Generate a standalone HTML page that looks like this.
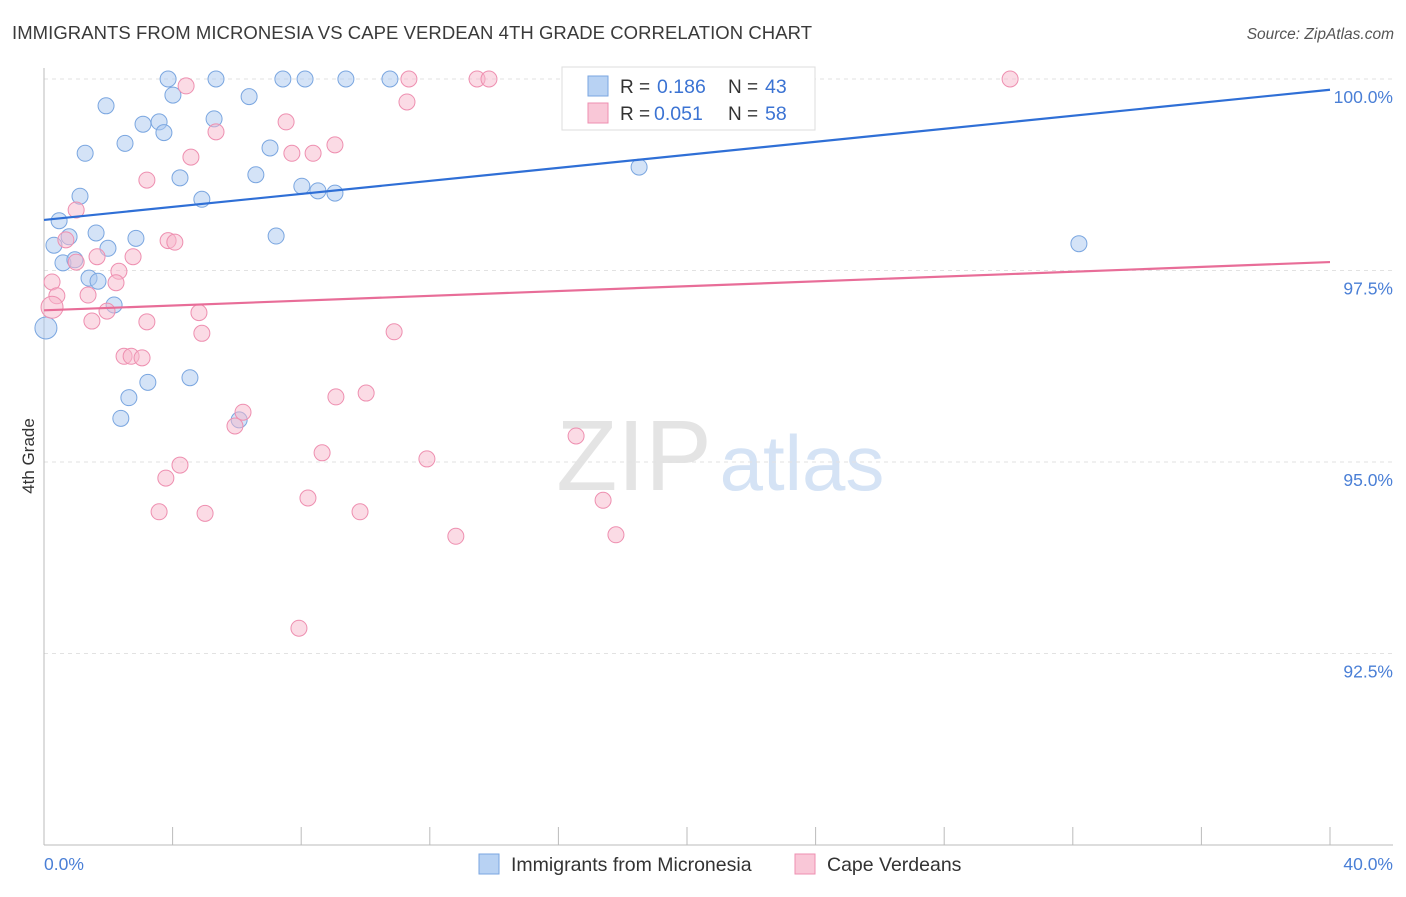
<!DOCTYPE html>
<html><head><meta charset="utf-8"><style>
body{margin:0;background:#fff;font-family:"Liberation Sans",sans-serif;}
svg text{font-family:"Liberation Sans",sans-serif;}
</style></head><body>
<svg id="chart" width="1406" height="892" viewBox="0 0 1406 892" xmlns="http://www.w3.org/2000/svg">
<text x="12" y="39" font-size="18.5" fill="#3a3a3a" textLength="800">IMMIGRANTS FROM MICRONESIA VS CAPE VERDEAN 4TH GRADE CORRELATION CHART</text>
<text x="1394" y="39" font-size="15.5" fill="#555" font-style="italic" text-anchor="end">Source: ZipAtlas.com</text>
<g>
<text x="634" y="490" font-size="100" fill="#e4e4e4" text-anchor="middle" font-family="Liberation Serif, serif">ZIP</text>
<text x="802" y="490" font-size="78" fill="#d5e3f5" text-anchor="middle">atlas</text>
</g>
<g id="grid"></g>
<g id="axes"></g>
<g id="marks"></g>
<text transform="translate(34,456) rotate(-90)" font-size="17" fill="#333" text-anchor="middle">4th Grade</text>
<g>
<rect x="562" y="67" width="253" height="63" fill="#fff" stroke="#ddd"/>
<rect x="588" y="76" width="20" height="20" fill="#b8d2f3" stroke="#7aa6e0"/>
<rect x="588" y="103" width="20" height="20" fill="#f9c7d7" stroke="#ee8fb0"/>
<text x="620" y="93" font-size="19" fill="#333">R =</text>
<text x="657" y="93" font-size="19.5" fill="#3b73d3">0.186</text>
<text x="728" y="93" font-size="19" fill="#333">N =</text>
<text x="765" y="93" font-size="19.5" fill="#3b73d3">43</text>
<text x="620" y="120" font-size="19" fill="#333">R =</text>
<text x="654" y="120" font-size="19.5" fill="#3b73d3">0.051</text>
<text x="728" y="120" font-size="19" fill="#333">N =</text>
<text x="765" y="120" font-size="19.5" fill="#3b73d3">58</text>
</g>
<g>
<rect x="479" y="854" width="20" height="20" fill="#b8d2f3" stroke="#7aa6e0"/>
<text x="511" y="871" font-size="19.5" fill="#333">Immigrants from Micronesia</text>
<rect x="795" y="854" width="20" height="20" fill="#f9c7d7" stroke="#ee8fb0"/>
<text x="827" y="871" font-size="19.5" fill="#333">Cape Verdeans</text>
</g>
</svg>
<script>
const yTicks=[100,97.5,95,92.5];
const yTickLabels=["100.0%","97.5%","95.0%","92.5%"];
const xTicks=[0,4,8,12,16,20,24,28,32,36,40];
const xLabels=["0.0%","40.0%"];
const blueX=[3.86,5.35,7.43,8.12,9.39,10.76,1.93,4.01,6.38,3.08,3.58,3.73,5.29,2.52,1.28,7.03,4.23,6.59,4.91,8.02,8.52,9.05,1.12,18.51,0.47,1.62,0.78,0.31,2.86,1.99,7.22,32.19,0.59,0.96,1.40,1.68,2.18,0.06,3.23,4.54,2.64,2.39,6.07];
const blueY=[100,100,100,100,100,100,99.65,99.79,99.77,99.41,99.44,99.30,99.48,99.16,99.03,99.10,98.71,98.75,98.43,98.60,98.54,98.51,98.47,98.85,98.15,97.99,97.94,97.83,97.92,97.79,97.95,97.85,97.60,97.64,97.40,97.36,97.05,96.75,96.04,96.10,95.84,95.57,95.55];
const pinkX=[4.42,11.35,13.47,13.84,30.05,21.90,11.29,7.53,5.35,9.05,7.71,8.37,4.57,3.20,1.00,0.68,3.86,4.07,1.65,2.77,1.00,2.33,0.25,0.40,1.37,2.24,0.25,4.82,1.96,1.49,3.20,4.91,10.89,2.49,2.71,3.05,9.08,10.02,6.19,5.94,16.55,4.23,8.65,11.91,3.79,8.21,17.39,3.58,5.01,9.83,12.81,17.79,7.93];
const pinkY=[99.91,100,100,100,100,100,99.70,99.44,99.31,99.14,99.03,99.03,98.98,98.68,98.29,97.90,97.89,97.87,97.68,97.68,97.61,97.49,97.35,97.17,97.18,97.34,97.02,96.95,96.97,96.84,96.83,96.68,96.70,96.38,96.38,96.36,95.85,95.90,95.65,95.47,95.34,94.96,95.12,95.04,94.79,94.53,94.50,94.35,94.33,94.35,94.03,94.05,92.83];
const blueTrend=[98.16,99.86];
const pinkTrend=[96.98,97.61];
const X0=44,X1=1330,Y0=845,Y1=79;
const sx=v=>X0+(v-0)/40*(X1-X0);
const sy=v=>Y0-(v-90)/10*(Y0-Y1);
const NS="http://www.w3.org/2000/svg";
function mk(t,a,p){const e=document.createElementNS(NS,t);for(const k in a)e.setAttribute(k,a[k]);p.appendChild(e);return e;}
const grid=document.getElementById('grid'),axes=document.getElementById('axes'),marks=document.getElementById('marks');
yTicks.forEach((v,i)=>{
 const l=mk('line',{x1:X0,x2:1393,y1:sy(v),y2:sy(v),stroke:'#e2e2e2','stroke-dasharray':'4,4'},grid);
 
 
 const t=mk('text',{x:1393,y:sy(v)+24,'font-size':17.5,fill:'#4a7fd6','text-anchor':'end'},axes);
 t.textContent=yTickLabels[i];
 
 
});
const ya=mk('line',{x1:X0,x2:X0,y1:68,y2:Y0,stroke:'#bbb'},axes);


const xa=mk('line',{x1:X0,x2:1393,y1:Y0,y2:Y0,stroke:'#bbb'},axes);


xTicks.forEach(v=>{
 const l=mk('line',{x1:sx(v),x2:sx(v),y1:Y0-18,y2:Y0,stroke:'#bbb'},axes);
 
 
});
[[0,'start',44],[40,'end',1393]].forEach((d,i)=>{
 const t=mk('text',{x:d[2],y:870,'font-size':17.5,fill:'#4a7fd6','text-anchor':d[1]},axes);
 t.textContent=xLabels[i];
 
 
});
function pts(xs,ys,fill,stroke,name){
 xs.forEach((x,i)=>{
  const big=(x<0.3&&(ys[i]>96.7&&ys[i]<97.1));
  const c=mk('circle',{cx:sx(x),cy:sy(ys[i]),r:big?11:8,fill:fill,'fill-opacity':0.5,stroke:stroke,'stroke-width':1},marks);
  
  
 });
}
pts(blueX,blueY,'#a9c8f0','#7aa6e0','point-micronesia');
pts(pinkX,pinkY,'#f7b8cc','#ee8fb0','point-cape-verdean');
const bl=mk('line',{x1:sx(0),y1:sy(blueTrend[0]),x2:sx(40),y2:sy(blueTrend[1]),stroke:'#2f6fd6','stroke-width':2.2},marks);


const pl=mk('line',{x1:sx(0),y1:sy(pinkTrend[0]),x2:sx(40),y2:sy(pinkTrend[1]),stroke:'#e86d98','stroke-width':2.2},marks);


</script>
</body></html>
